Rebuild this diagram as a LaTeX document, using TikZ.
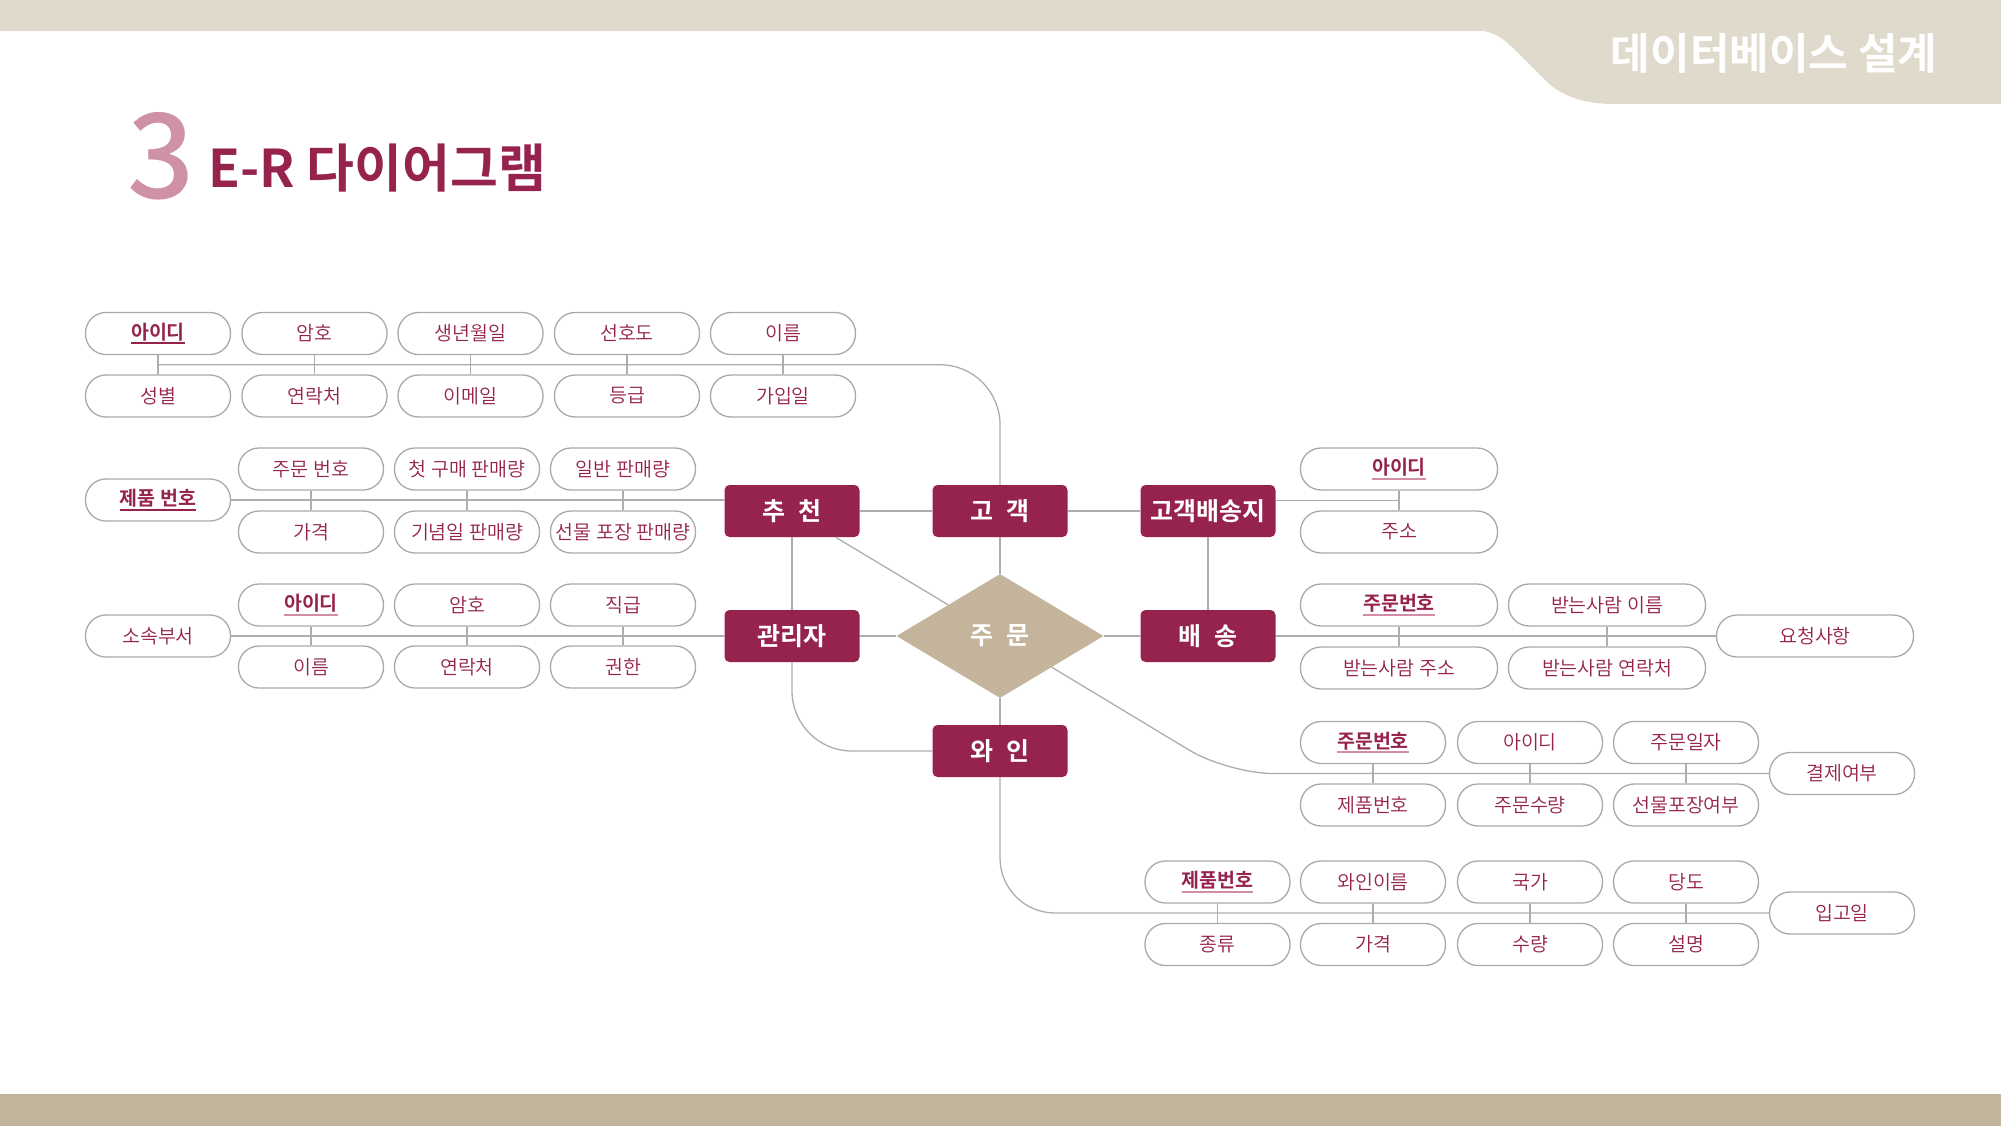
\documentclass[tikz,border=0pt]{standalone}
\usepackage{fontspec}
\setmainfont{Noto Sans CJK KR}[UprightFont=* DemiLight, BoldFont=* Bold]
\newfontfamily\krmed{Noto Sans CJK KR Medium}
\usetikzlibrary{shapes.geometric,calc}
\definecolor{wine}{HTML}{96234E}
\definecolor{pinkul}{HTML}{D08CA8}
\definecolor{numpink}{HTML}{CE91A8}
\definecolor{bandtop}{HTML}{E0DACD}
\definecolor{bandbot}{HTML}{C3B59B}
\definecolor{diamondc}{HTML}{C3B49B}
\definecolor{linegray}{HTML}{ADADAD}
\definecolor{pillgray}{HTML}{A9A9A9}
\newcommand\keyul[2][pinkul]{\setbox0\hbox{\bfseries #2}\rlap{\copy0}\textcolor{#1}{\rule[-5pt]{\wd0}{1.7pt}}}
\newcommand\gap{\hspace{0.55em}}
\tikzset{
  attr/.style={draw=pillgray, line width=1.3pt, fill=white, rounded corners=20.5pt,
    minimum width=145pt, minimum height=42pt, inner sep=0pt, text=wine,
    font=\fontsize{19.5}{22}\selectfont},
  wideattr/.style={attr, minimum width=197pt},
  ent/.style={fill=wine, rounded corners=5pt, minimum width=135pt, minimum height=52pt,
    inner sep=0pt, text=white, font=\fontsize{25}{28}\selectfont\bfseries},
  rel/.style={diamond, fill=diamondc, minimum width=207pt, minimum height=124pt,
    inner sep=0pt, text=white, font=\fontsize{25}{28}\selectfont\bfseries},
  conn/.style={draw=linegray, line width=1.3pt}
}
\begin{document}
\begin{tikzpicture}[x=1pt,y=-1pt]
\useasboundingbox (0,0) rectangle (2001,1126);
% bands
\fill[bandtop] (0,0) rectangle (2001,31);
\fill[bandtop] (1440,30) -- (1475,30) .. controls (1492,31) and (1500,36) .. (1512,47) -- (1545,80) .. controls (1562,97) and (1585,104) .. (1615,104) -- (2001,104) -- (2001,0) -- cycle;
\fill[bandbot] (0,1094) rectangle (2001,1126);
\node[text=white, font=\fontsize{43}{48}\selectfont\bfseries] (hdr) at (1774,53) {데이터베이스 설계};
% title
\node[anchor=base west, inner sep=0pt, text=numpink, font=\fontsize{118}{120}\selectfont\krmed] (num) at (127,199) {3};
\node[anchor=base west, inner sep=0pt, text=wine, font=\fontsize{52}{56}\selectfont\bfseries] (ttl) at (208,188) {E-R 다이어그램};

% entities
\node[ent] (chu) at (792,511) {추\gap 천};
\node[ent] (gog) at (1000,511) {고\gap 객};
\node[ent] (gbs) at (1208,511) {고객배송지};
\node[ent] (adm) at (792,636) {관리자};
\node[ent] (bae) at (1208,636) {배\gap 송};
\node[ent] (win) at (1000,751) {와\gap 인};
\node[rel] (jum) at (1000,636) {주\gap 문};

% customer attributes
\node[attr] (c1) at (158,333.5) {\keyul[wine]{아이디}};
\node[attr] (c2) at (314.5,333.5) {암호};
\node[attr] (c3) at (470.5,333.5) {생년월일};
\node[attr] (c4) at (627,333.5) {선호도};
\node[attr] (c5) at (783,333.5) {이름};
\node[attr] (d1) at (158,396) {성별};
\node[attr] (d2) at (314.5,396) {연락처};
\node[attr] (d3) at (470.5,396) {이메일};
\node[attr] (d4) at (627,396) {등급};
\node[attr] (d5) at (783,396) {가입일};
\foreach \i in {1,...,5} \draw[conn] (c\i.south) -- (d\i.north);
\coordinate (custline) at ($(c1.south)!0.5!(d1.north)$);
\draw[conn, rounded corners=60pt] (gog.north) |- (custline);

% recommendation attributes
\node[attr] (r0) at (158,500) {\keyul[wine]{제품 번호}};
\node[attr] (r1) at (311,469) {주문 번호};
\node[attr] (r2) at (467,469) {첫 구매 판매량};
\node[attr] (r3) at (623,469) {일반 판매량};
\node[attr] (s1) at (311,532) {가격};
\node[attr] (s2) at (467,532) {기념일 판매량};
\node[attr] (s3) at (623,532) {선물 포장 판매량};
\foreach \i in {1,2,3} \draw[conn] (r\i.south) -- (s\i.north);
\draw[conn] (r0.east) -- (chu.west |- r0.east);

% admin attributes
\node[attr] (m0) at (158,636) {소속부서};
\node[attr] (m1) at (311,605) {\keyul{아이디}};
\node[attr] (m2) at (467,605) {암호};
\node[attr] (m3) at (623,605) {직급};
\node[attr] (n1) at (311,667) {이름};
\node[attr] (n2) at (467,667) {연락처};
\node[attr] (n3) at (623,667) {권한};
\foreach \i in {1,2,3} \draw[conn] (m\i.south) -- (n\i.north);
\draw[conn] (m0.east) -- (adm.west);

% delivery address attributes
\node[wideattr] (g1) at (1399,469) {\keyul{아이디}};
\node[wideattr] (g2) at (1399,532) {주소};
\draw[conn] (g1.south) -- (g2.north);
\coordinate (gbsline) at ($(g1.south)!0.5!(g2.north)$);
\draw[conn] (gbs.east |- gbsline) -- (gbsline);

% delivery attributes
\node[wideattr] (b1) at (1399,605) {\keyul{주문번호}};
\node[wideattr] (b2) at (1607,605) {받는사람 이름};
\node[wideattr] (b3) at (1399,668) {받는사람 주소};
\node[wideattr] (b4) at (1607,668) {받는사람 연락처};
\node[wideattr] (b5) at (1815,636) {요청사항};
\draw[conn] (b1.south) -- (b3.north);
\draw[conn] (b2.south) -- (b4.north);
\draw[conn] (bae.east) -- (b5.west);

% order attributes
\node[attr] (o1) at (1373,742.5) {\keyul{주문번호}};
\node[attr] (o2) at (1530,742.5) {아이디};
\node[attr] (o3) at (1686,742.5) {주문일자};
\node[attr] (p1) at (1373,805) {제품번호};
\node[attr] (p2) at (1530,805) {주문수량};
\node[attr] (p3) at (1686,805) {선물포장여부};
\node[attr] (o4) at (1842,773.5) {결제여부};
\foreach \i in {1,2,3} \draw[conn] (o\i.south) -- (p\i.north);
\coordinate (ordcorner) at (1228,773.5);
\draw[conn, rounded corners=45pt] (jum) -- (ordcorner) -- (o4.west);

% wine attributes
\node[attr] (w1) at (1217.5,882) {\keyul{제품번호}};
\node[attr] (w2) at (1373,882) {와인이름};
\node[attr] (w3) at (1530,882) {국가};
\node[attr] (w4) at (1686,882) {당도};
\node[attr] (v1) at (1217.5,944.5) {종류};
\node[attr] (v2) at (1373,944.5) {가격};
\node[attr] (v3) at (1530,944.5) {수량};
\node[attr] (v4) at (1686,944.5) {설명};
\node[attr] (w5) at (1842,913) {입고일};
\foreach \i in {1,...,4} \draw[conn] (w\i.south) -- (v\i.north);
\draw[conn, rounded corners=55pt] (win.south) |- (w5.west);

% entity connectors
\draw[conn] (chu) -- (gog);
\draw[conn] (gog) -- (gbs);
\draw[conn] (gog) -- (jum);
\draw[conn] (chu) -- (adm);
\draw[conn] (chu) -- (jum);
\draw[conn] (adm) -- (jum);
\draw[conn] (jum) -- (bae);
\draw[conn] (gbs) -- (bae);
\draw[conn] (jum) -- (win);
\draw[conn, rounded corners=60pt] (adm.south) |- (win.west);
\end{tikzpicture}
\end{document}
